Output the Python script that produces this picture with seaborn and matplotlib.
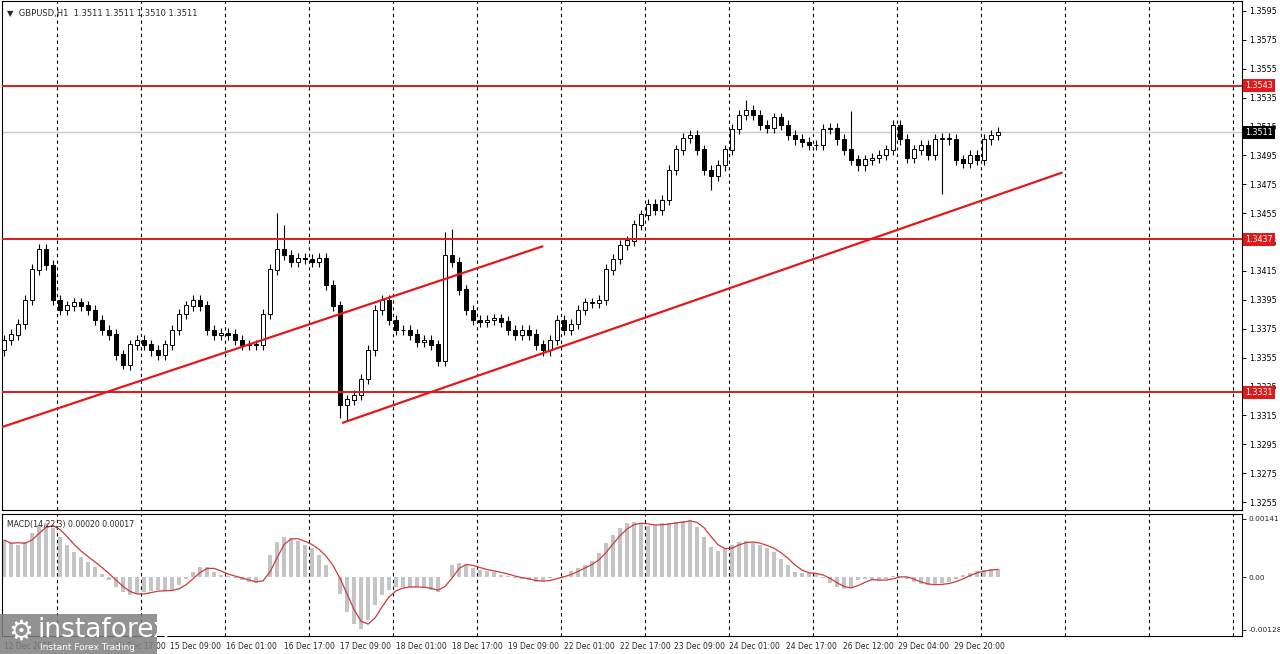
import numpy as np
import matplotlib
matplotlib.use("Agg")
import matplotlib.pyplot as plt
import matplotlib.patches as mpatches
import seaborn as sns

# GBPUSD H1 chart, approximated with 2-hour candles (closes)
closes = [
    1.3367, 1.3371, 1.3378, 1.3395, 1.3416, 1.3430, 1.3419, 1.3395, 1.3388, 1.3391,
    1.3393, 1.3391, 1.3388, 1.3381, 1.3374, 1.3371, 1.3357, 1.3350, 1.3364, 1.3367,
    1.3364, 1.3360, 1.3357, 1.3364, 1.3374, 1.3385, 1.3391, 1.3395, 1.3391, 1.3374,
    1.3371, 1.3372, 1.3371, 1.3367, 1.3364, 1.3364, 1.3364, 1.3385, 1.3416, 1.3430,
    1.3426, 1.3421, 1.3424, 1.3423, 1.3421, 1.3424, 1.3405, 1.3391,
    1.3322, 1.3326, 1.3329, 1.3340, 1.3360, 1.3388, 1.3395, 1.3381, 1.3374, 1.3374,
    1.3371, 1.3366, 1.3367, 1.3364, 1.3353, 1.3426, 1.3421, 1.3402, 1.3388, 1.3381,
    1.3380, 1.3381, 1.3382, 1.3380, 1.3374, 1.3371, 1.3374, 1.3371, 1.3364, 1.3360,
    1.3367, 1.3381, 1.3374, 1.3378, 1.3388, 1.3393, 1.3393, 1.3395, 1.3416, 1.3423,
    1.3433, 1.3436, 1.3447, 1.3454, 1.3461, 1.3457, 1.3464, 1.3485,
    1.3499, 1.3507, 1.3509, 1.3499, 1.3485, 1.3481, 1.3488, 1.3499, 1.3513, 1.3523,
    1.3526, 1.3523, 1.3516, 1.3514, 1.3521, 1.3516, 1.3509, 1.3506, 1.3504, 1.3502,
    1.3502, 1.3513, 1.3514, 1.3506, 1.3499, 1.3492, 1.3488, 1.3492, 1.3493, 1.3495,
    1.3499, 1.3516, 1.3506, 1.3493, 1.3499, 1.3502, 1.3495, 1.3506, 1.3507, 1.3506,
    1.3492, 1.3490, 1.3495, 1.3492, 1.3506, 1.3509, 1.3511,
]
first_open = 1.3360
# bar index -> (high, low) where the wick is clearly longer than usual
spikes = {17: (None, 1.3347), 39: (1.3455, None), 40: (1.3447, None), 48: (None, 1.3313),
          49: (None, 1.3312), 63: (1.3442, None), 64: (1.3444, None), 101: (None, 1.3471),
          106: (1.3533, None), 121: (1.3526, None), 134: (None, 1.3468)}
macd = [
    90, 82, 78, 86, 106, 126, 130, 118, 98, 78, 62, 49, 37, 24, 8, -7, -24, -37, -44, -42,
    -37, -34, -32, -34, -32, -19, -5, 13, 25, 25, 13, 6, 3, -2, -7, -13, -15, 1, 53, 86,
    98, 94, 87, 79, 70, 53, 29, 1, -40, -84, -113, -125, -104, -68, -44, -32, -24, -24, -24, -24,
    -26, -32, -37, 1, 29, 33, 29, 23, 17, 15, 13, 6, 3, -2, -5, -7, -13, -10, -2, 1,
    3, 15, 23, 29, 39, 58, 82, 102, 118, 130, 134, 128, 125, 126, 130, 130, 134, 136, 139, 122,
    98, 74, 63, 70, 78, 86, 87, 82, 78, 70, 62, 45, 29, 13, 9, 9, 9, -3, -15, -24,
    -29, -26, -7, -5, -7, -10, -5, 3, 3, -5, -13, -18, -19, -19, -15, -13, -5, 5, 11, 15,
    17, 19, 20,
]
levels = [1.3543, 1.3437, 1.3331]
last_price = 1.3511
# trend lines: (bar0, price0, bar1, price1)
trend_lines = [(-0.3, 1.3307, 76.9, 1.3432), (48.4, 1.3310, 151.1, 1.3483)]
price_ticks = np.round(np.arange(1.3255, 1.3596, 0.0020), 4)
time_labels = ["12 Dec 2025", "12 Dec 17:00", "15 Dec 09:00", "16 Dec 01:00", "16 Dec 17:00",
               "17 Dec 09:00", "18 Dec 01:00", "18 Dec 17:00", "19 Dec 09:00", "22 Dec 01:00",
               "22 Dec 17:00", "23 Dec 09:00", "24 Dec 01:00", "24 Dec 17:00", "26 Dec 12:00",
               "29 Dec 04:00", "29 Dec 20:00"]
time_pos = [0, 15.9, 23.7, 31.7, 40.0, 48.0, 56.0, 64.0, 72.0, 80.0, 88.0, 95.7, 103.6,
            111.7, 119.9, 127.7, 135.7]

sns.set_style("white")
plt.rcParams['font.family'] = ['DejaVu Sans']

W, H = 1280, 654
fig = plt.figure(figsize=(W / 100, H / 100), dpi=100)
ax = fig.add_axes([2 / W, 1 - 510 / H, 1240 / W, 509 / H])
axm = fig.add_axes([2 / W, 1 - 636 / H, 1240 / W, 122 / H])

n = len(closes)
x = np.arange(n)
opens = np.array([first_open] + closes[:-1])
c = np.array(closes)
top = np.maximum(opens, c)
bot = np.minimum(opens, c)
highs = top + 0.00035
lows = bot - 0.00035
for i, (h, l) in spikes.items():
    if h is not None:
        highs[i] = h
    if l is not None:
        lows[i] = l

xlim = (-0.3, 1240 / 7 - 0.3)
for a in (ax, axm):
    a.set_xlim(*xlim)
    for g in np.arange(7.6, xlim[1], 12):
        a.axvline(g, color="black", lw=0.8, ls=(0, (3, 3)), zorder=0)
    for s in a.spines.values():
        s.set_color("black")
        s.set_linewidth(0.8)

ax.set_ylim(1.32496, 1.36018)
ax.vlines(x, lows, highs, color="black", lw=0.8, zorder=2)
up = c >= opens
ax.bar(x[up], (top - bot)[up] + 0.00002, bottom=bot[up], width=0.55, color="white",
       edgecolor="black", linewidth=0.7, zorder=3)
ax.bar(x[~up], (top - bot)[~up] + 0.00002, bottom=bot[~up], width=0.55, color="black",
       edgecolor="black", linewidth=0.7, zorder=3)

ax.axhline(last_price, color="#c8c8c8", lw=1, zorder=1)
for lv in levels:
    ax.axhline(lv, color="#e0191b", lw=1.4, zorder=4)
for b0, p0, b1, p1 in trend_lines:
    ax.plot([b0, b1], [p0, p1], color="#e0191b", lw=1.6, zorder=4)

ax.yaxis.tick_right()
ax.set_yticks(price_ticks)
ax.set_yticklabels([f"{t:.4f}" for t in price_ticks], fontsize=5.8)
ax.tick_params(axis="y", length=3, width=0.7, pad=2, colors="black")
ax.set_xticks([])
for lv, fc in [(v, "#e0191b") for v in levels] + [(last_price, "black")]:
    ax.text(1.0025, lv, f"{lv:.4f}", transform=ax.get_yaxis_transform(), fontsize=5.8,
            color="white", va="center", ha="left",
            bbox=dict(boxstyle="square,pad=0.25", fc=fc, ec="none"), zorder=6)
ax.text(0.004, 0.985, "\u25bc  GBPUSD,H1  1.3511 1.3511 1.3510 1.3511", transform=ax.transAxes,
        fontsize=6, va="top", ha="left")

# MACD panel
mv = np.array(macd[:n]) * 1e-5
axm.set_ylim(-0.00143, 0.00153)
axm.bar(x[:len(mv)], mv, width=0.55, color="#c4c4c4", linewidth=0, zorder=2)
signal = np.convolve(mv, np.ones(3) / 3, mode="full")[:len(mv)]
signal[:2] = mv[:2]
sns.lineplot(x=x[:len(mv)], y=signal, ax=axm, color="#d0393b", lw=0.9, zorder=3)
axm.yaxis.tick_right()
axm.set_yticks([0.00141, 0.0, -0.00128])
axm.set_yticklabels(["0.00141", "0.00", "-0.00128"], fontsize=5.3)
axm.tick_params(axis="y", length=3, width=0.7, pad=1.5)
axm.set_xticks(time_pos)
axm.set_xticklabels(time_labels, fontsize=5.5, ha="left")
axm.tick_params(axis="x", length=3, width=0.7, pad=1.5)
axm.text(0.004, 0.95, "MACD(14,22,3) 0.00020 0.00017", transform=axm.transAxes,
         fontsize=5.6, va="top", ha="left")

# instaforex logo
fig.patches.append(mpatches.Rectangle((0, 0), 157 / W, 40 / H, transform=fig.transFigure,
                                      fc="#7f7f7f", ec="none", alpha=0.85, zorder=10))
fig.text(8 / W, 22 / H, "\u2699", fontsize=20, color="white", va="center", zorder=11)
fig.text(38 / W, 24 / H, "instaforex", fontsize=19, color="white", va="center", zorder=11)
fig.text(40 / W, 7 / H, "Instant Forex Trading", fontsize=6.5, color="white", va="center",
         zorder=11)

fig.savefig("out.png", dpi=100)
